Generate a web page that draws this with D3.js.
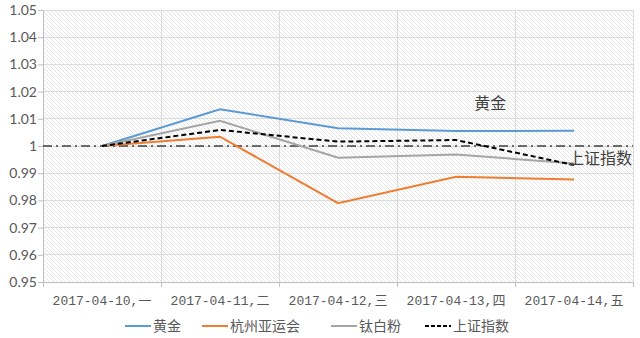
<!DOCTYPE html>
<html><head><meta charset="utf-8">
<script src="https://cdn.jsdelivr.net/npm/d3@7/dist/d3.min.js"></script>
<style>body{margin:0;background:#fff}svg{display:block}</style>
</head><body>
<svg id="c" width="640" height="338"></svg>
<script>
const categories = ["2017-04-10,一","2017-04-11,二","2017-04-12,三","2017-04-13,四","2017-04-14,五"];
const seriesNames = ["黄金","杭州亚运会","钛白粉","上证指数"];
const gold = [1, 1.0135, 1.0065, 1.0055, 1.0056];
const hangzhou = [1, 1.0034, 0.979, 0.9887, 0.9877];
const titanium = [1, 1.0093, 0.9957, 0.9969, 0.9936];
const shIndex = [1, 1.0059, 1.0016, 1.0022, 0.9930];
const yTicks = [0.95,0.96,0.97,0.98,0.99,1,1.01,1.02,1.03,1.04,1.05];
const yTickLabels = ["0.95","0.96","0.97","0.98","0.99","1","1.01","1.02","1.03","1.04","1.05"];
const annotations = [{text:"黄金", x:3.29, v:1.0136},{text:"上证指数", x:4.22, v:0.9935}];

const colors = ["#5b9bd5","#ed7d31","#a5a5a5","#000000"];
const data = [gold, hangzhou, titanium, shIndex];

const svg = d3.select("#c");
const L = 43, R = 633, T = 10, B = 282;
const x = d3.scaleBand().domain(categories).range([L, R]);
const y = d3.scaleLinear().domain([0.95, 1.05]).range([B, T]);

const defs = svg.append("defs");
const pat = defs.append("pattern").attr("id","hatch").attr("patternUnits","userSpaceOnUse")
  .attr("width",4).attr("height",4);
pat.append("rect").attr("width",4).attr("height",4).attr("fill","#ffffff");
pat.append("path").attr("d","M-1,-1 L5,5 M-1,3 L1,5 M3,-1 L5,1").attr("stroke","#e6e6e6").attr("stroke-width",1);

svg.append("rect").attr("x",L).attr("y",T).attr("width",R-L).attr("height",B-T).attr("fill","url(#hatch)");

// gridlines
svg.append("g").selectAll("line").data(yTicks).join("line")
  .attr("x1",L).attr("x2",R).attr("y1",d=>y(d)).attr("y2",d=>y(d))
  .attr("stroke","#dcdcdc").attr("stroke-width",1).attr("shape-rendering","crispEdges");
const bounds = categories.map(c=>x(c)).concat([R]);
svg.append("g").selectAll("line").data(bounds.slice(1)).join("line")
  .attr("x1",d=>d).attr("x2",d=>d).attr("y1",T).attr("y2",B)
  .attr("stroke","#dcdcdc").attr("stroke-width",1).attr("shape-rendering","crispEdges");

// y axis
const yAxis = d3.axisLeft(y).tickValues(yTicks).tickFormat((d,i)=>yTickLabels[i]).tickSize(5).tickSizeOuter(0);
const gy = svg.append("g").attr("transform",`translate(${L},0)`).call(yAxis);
gy.select(".domain").attr("stroke","#bfbfbf");
gy.selectAll(".tick line").attr("stroke","#bfbfbf");
gy.selectAll("text").attr("fill","#595959").attr("font-family","Lato, 'Liberation Sans', sans-serif").attr("font-size",14).attr("x",-6);

// x axis
const xAxis = d3.axisBottom(x).tickSize(0).tickSizeOuter(0);
const gx = svg.append("g").attr("transform",`translate(0,${B})`).call(xAxis);
gx.select(".domain").attr("stroke","#bfbfbf");
gx.selectAll("text").attr("fill","#595959").attr("font-family","'Liberation Mono', 'Noto Sans CJK SC', monospace").attr("font-size",13).attr("dy","1.55em");
svg.append("g").selectAll("line").data(bounds).join("line")
  .attr("x1",d=>d).attr("x2",d=>d).attr("y1",B).attr("y2",B+5)
  .attr("stroke","#bfbfbf").attr("shape-rendering","crispEdges");

// reference line at 1
svg.append("line").attr("x1",L).attr("x2",R).attr("y1",y(1)).attr("y2",y(1))
  .attr("stroke","#404040").attr("stroke-width",1.3).attr("stroke-dasharray","9,4,2,4");

// series
const line = d3.line().x((d,i)=>x(categories[i])+x.bandwidth()/2).y(d=>y(d));
data.forEach((s,k)=>{
  svg.append("path").datum(s).attr("d",line).attr("fill","none")
    .attr("stroke",colors[k]).attr("stroke-width",2)
    .attr("stroke-dasharray", k===3 ? "5,3" : null);
});

// annotations
annotations.forEach(a=>{
  svg.append("text").attr("x", x(categories[0]) + a.x*x.step() + x.bandwidth()/2).attr("y", y(a.v))
    .attr("text-anchor","middle").attr("font-family","'Noto Sans CJK SC', sans-serif")
    .attr("font-size",16).attr("fill","#404040").text(a.text);
});

// legend
const legendX = [125, 202, 331, 425];
const ly = 326;
seriesNames.forEach((n,k)=>{
  const g = svg.append("g");
  g.append("line").attr("x1",legendX[k]).attr("x2",legendX[k]+26).attr("y1",ly).attr("y2",ly)
    .attr("stroke",colors[k]).attr("stroke-width",2).attr("stroke-dasharray",k===3?"4,2":null);
  g.append("text").attr("x",legendX[k]+28).attr("y",ly+5).attr("font-family","'Noto Sans CJK SC', sans-serif")
    .attr("font-size",14).attr("fill","#595959").text(n);
});
</script>
</body></html>
